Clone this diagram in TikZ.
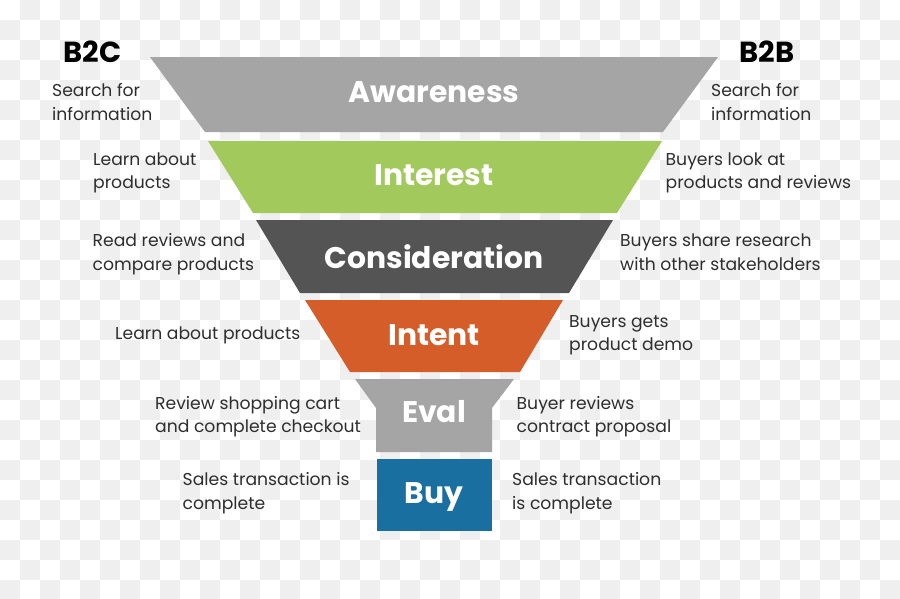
\documentclass[tikz,border=0pt]{standalone}
\usepackage{fontspec}
\setmainfont{Poppins}
\definecolor{checker}{HTML}{EFEFEF}
\definecolor{cgray}{HTML}{A5A5A5}
\definecolor{cgreen}{HTML}{A2C95C}
\definecolor{cdark}{HTML}{545454}
\definecolor{corange}{HTML}{D55D29}
\definecolor{cblue}{HTML}{1A6FA1}
\definecolor{txt}{HTML}{2E2E2E}
\begin{document}
\begin{tikzpicture}[x=1pt,y=-1pt,
  side/.style={font=\fontsize{17.2}{23.2}\selectfont, text=txt, inner sep=0pt, align=left, anchor=base west},
  stage/.style={font=\fontsize{29.8}{34}\selectfont\bfseries, text=white, inner sep=0pt, anchor=base},
  head/.style={font=\fontsize{29}{32}\selectfont\bfseries, text=black, inner sep=0pt, anchor=base}]
\useasboundingbox (0,0) rectangle (900,598);
\fill[white] (0,0) rectangle (900,598);
\foreach \i in {0,...,44}{\foreach \j in {0,...,29}{%
  \ifodd\numexpr\i+\j\relax \fill[checker] (\i*20,\j*20) rectangle ++(20,20);\fi}}
% funnel
\fill[cgray]   (150,57) -- (718,57) -- (663,132) -- (205,132) -- cycle;
\fill[cgreen]  (208,141) -- (662,141) -- (617,213) -- (253,213) -- cycle;
\fill[cdark]   (256,220) -- (613,220) -- (569,293) -- (300,293) -- cycle;
\fill[corange] (305,300) -- (563,300) -- (520,372) -- (350,372) -- cycle;
\fill[cgray]   (355,379) -- (514,379) -- (492,408) -- (492,452) -- (376,452) -- (376,408) -- cycle;
\fill[cblue]   (377,459) rectangle (492,531);
% stage labels
\node[stage] (aw) at (434,102.5) {Awareness};
\node[stage] (in) at (434,185) {Interest};
\node[stage] (co) at (434,268) {Consideration};
\node[stage] (it) at (434,345) {Intent};
\node[stage] (ev) at (434,422) {Eval};
\node[stage] (bu) at (434,503) {Buy};
% headers
\node[head] (b2c) at (92.5,62) {B2C};
\node[head] (b2b) at (767,62) {B2B};
% left texts (anchor at baseline of the last line)
\node[side] (l1) at (52,120) {Search for\\information};
\node[side] (l2) at (93,188.5) {Learn about\\products};
\node[side] (l3) at (92.5,270) {Read reviews and\\compare products};
\node[side] (l4) at (115,339) {Learn about products};
\node[side] (l5) at (155,432.5) {Review shopping cart\\and complete checkout};
\node[side] (l6) at (182.5,509) {Sales transaction is\\complete};
% right texts
\node[side] (r1) at (711,120) {Search for\\information};
\node[side] (r2) at (665.5,188.5) {Buyers look at\\products and reviews};
\node[side] (r3) at (620,270) {Buyers share research\\with other stakeholders};
\node[side] (r4) at (569,350.5) {Buyers gets\\product demo};
\node[side] (r5) at (516.5,432.5) {Buyer reviews\\contract proposal};
\node[side] (r6) at (512,509) {Sales transaction\\is complete};
\end{tikzpicture}
\end{document}
